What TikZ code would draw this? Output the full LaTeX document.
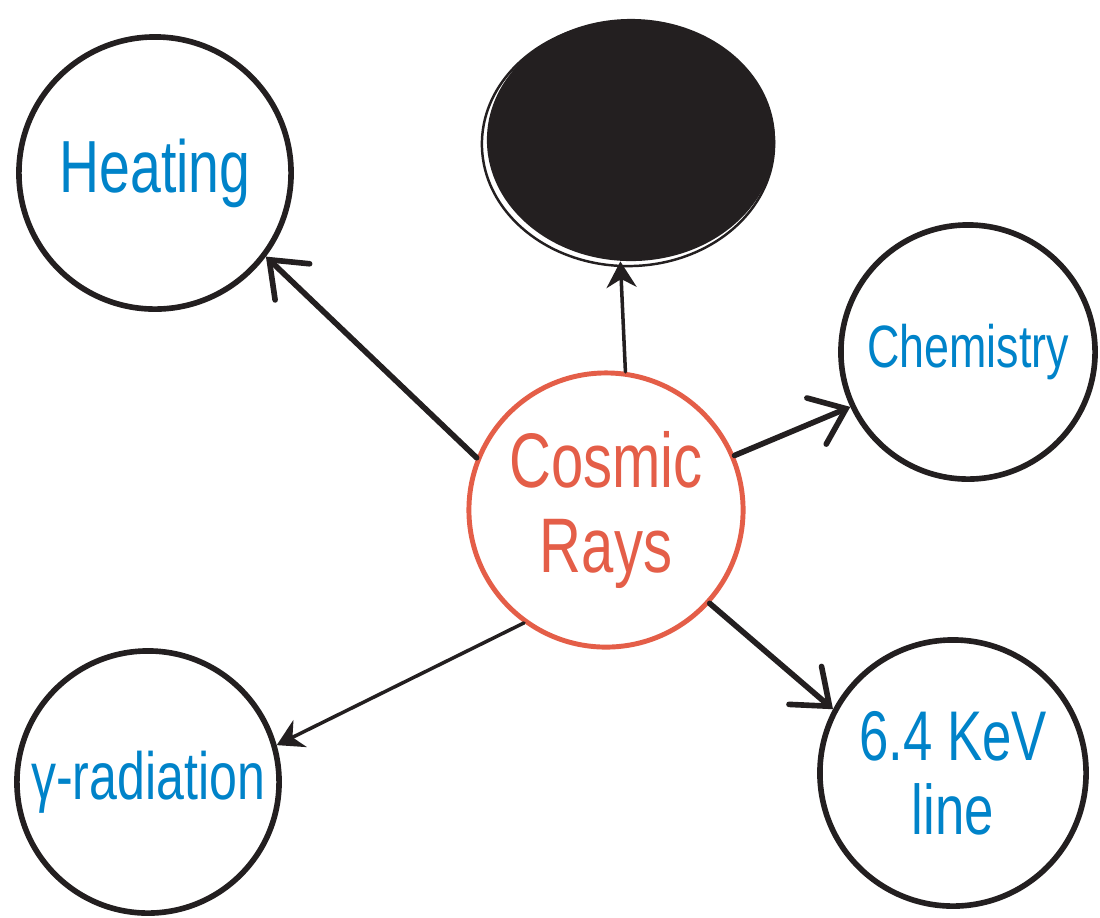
\documentclass[tikz,border=0pt]{standalone}
\usepackage{fontspec}
\setmainfont{Liberation Sans}
\newfontfamily\hand[FakeStretch=0.75]{Liberation Sans}
\usepackage{xcolor}
\usetikzlibrary{arrows.meta,shapes.geometric}
\definecolor{inkblue}{RGB}{0,131,201}
\definecolor{inkred}{RGB}{228,94,72}
\definecolor{inkblack}{RGB}{35,31,32}

\begin{document}
\begin{tikzpicture}[
  x=0.01cm, y=-0.01cm,
  >={Straight Barb[length=3.2mm,width=5mm,line cap=round]},
  bubble/.style={draw=inkblack, circle, line width=1.6pt, inner sep=0pt, align=center, text=inkblue},
  hot/.style={bubble, draw=inkred, text=inkred, line width=1.4pt},
  hole/.style={ellipse, fill=inkblack, minimum width=2.88cm, minimum height=2.42cm, inner sep=0pt},
  link/.style={->, draw=inkblack, line width=1.6pt, line cap=round},
  thinLink/.style={link, line width=1pt, >={Stealth[length=2.6mm,width=3mm]}}
]
\fill[white] (0,0) rectangle (1100,917);
\useasboundingbox (0,0) rectangle (1100,917);

\node[hot, minimum size=2.74cm, font=\hand\fontsize{22}{24}\selectfont] (rays) at (606,510) {Cosmic\\Rays};
\node[bubble, minimum size=2.72cm, font=\hand\fontsize{21}{23}\selectfont] (heat) at (155,173) {Heating};
\node[bubble, minimum size=2.54cm, font=\hand\fontsize{17}{19}\selectfont] (chem) at (968,352) {Chemistry};
\node[bubble, minimum size=2.62cm, font=\hand\fontsize{19}{21}\selectfont] (gam) at (148,782) {γ-radiation};
\node[bubble, minimum size=2.66cm, font=\hand\fontsize{20}{21}\selectfont] (kev) at (953,773) {6.4 KeV\\line};

% black one, with its loose outline
\draw[inkblack, line width=0.7pt] (628,144) ellipse [x radius=1.46cm, y radius=1.22cm];
\node[hole] (blk) at (631,140) {};

\draw[link] (rays.158) -- (heat.-37);
\draw[thinLink] (rays.82) -- (blk.265);
\draw[link] (rays.23) -- (chem.205);
\draw[link] (rays.-42) -- (kev.152);
\draw[thinLink] (rays.-126) -- (gam.16);
\end{tikzpicture}
\end{document}
